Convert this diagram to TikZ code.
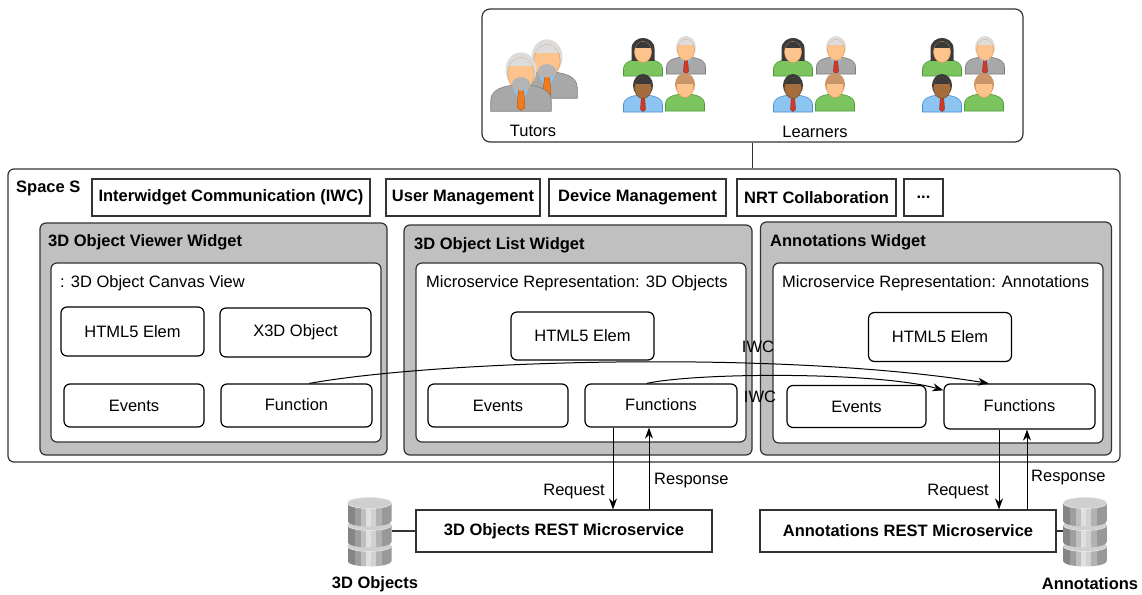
\documentclass[tikz,border=0pt]{standalone}
\usepackage{fontspec}
\setmainfont{Liberation Sans}
\usepackage{tikz}
\usetikzlibrary{arrows.meta, positioning, calc}

\definecolor{linegray}{HTML}{333333}
\definecolor{panelgray}{HTML}{C0C0C0}
\definecolor{skin}{HTML}{FCC38C}
\definecolor{skinedge}{HTML}{E39A55}
\definecolor{darkskin}{HTML}{A46D3E}
\definecolor{darkskinedge}{HTML}{7A4B25}
\definecolor{hairblack}{HTML}{3A3A3A}
\definecolor{hairgray}{HTML}{DCDCDC}
\definecolor{hairbrown}{HTML}{C8956A}
\definecolor{beardgray}{HTML}{B4B4B4}
\definecolor{suitgray}{HTML}{A8A8A8}
\definecolor{suitedge}{HTML}{7C7C7C}
\definecolor{shirtblue}{HTML}{8CC4F2}
\definecolor{blueedge}{HTML}{4A90D0}
\definecolor{shirtgreen}{HTML}{7BC45E}
\definecolor{greenedge}{HTML}{4A9A35}
\definecolor{tiered}{HTML}{D03A2A}
\definecolor{tieorange}{HTML}{F07A1E}
\definecolor{dbtop}{HTML}{CFCFCF}

\newcommand{\diagfont}{\fontsize{16.5}{19.8}\selectfont}

% parts of the little people icons (head centre at the origin, y downwards)
\newcommand{\personbody}[2]{%
  \filldraw[fill=#1, draw=#2, line width=0.6pt]
    (-19.5,24) -- (-19.5,17) .. controls (-19.5,10) and (-11,7) .. (0,7)
    .. controls (11,7) and (19.5,10) .. (19.5,17) -- (19.5,24) -- cycle;}
\newcommand{\persontie}[1]{%
  \fill[shirtblue] (-6,7.6) -- (0,19) -- (6,7.6) -- cycle;
  \filldraw[fill=#1, draw=#1!70!black, line width=0.4pt]
    (-1.7,10) -- (1.7,10) -- (2.5,21.5) -- (0,23.5) -- (-2.5,21.5) -- cycle;}
\newcommand{\personhead}[4]{%
  \fill[#1] (0,-2.5) ellipse [x radius=10, y radius=11.5];
  \filldraw[fill=#2, draw=#3, line width=0.5pt] (0,0) ellipse [x radius=8.5, y radius=10.5];
  \begin{scope}
    \clip (0,0) ellipse [x radius=8.5, y radius=10.5];
    \fill[#1] (-10,-12) rectangle (10,#4);
  \end{scope}}

\tikzset{
  woman/.pic={
    \personbody{shirtgreen}{greenedge}
    \fill[hairblack] (-11.5,9) -- (-11.5,-3) .. controls (-11.5,-17.5) and (11.5,-17.5) .. (11.5,-3) -- (11.5,9) -- cycle;
    \personhead{hairblack}{skin}{skinedge}{-3.5}
  },
  elder/.pic={
    \personbody{suitgray}{suitedge}
    \persontie{tiered}
    \personhead{hairgray}{skin}{skinedge}{-5}
  },
  darkman/.pic={
    \personbody{shirtblue}{blueedge}
    \persontie{tiered}
    \personhead{hairblack}{darkskin}{darkskinedge}{-4}
  },
  youth/.pic={
    \personbody{shirtgreen}{greenedge}
    \personhead{hairbrown}{skin}{skinedge}{-3}
  },
  tutor/.pic={
    \personbody{suitgray}{suitedge}
    \persontie{tieorange}
    \personhead{hairgray}{skin}{skinedge}{-5}
    \begin{scope}
      \clip (0,0) ellipse [x radius=8.5, y radius=10.5];
      \fill[beardgray] (0,7) ellipse [x radius=6, y radius=5];
    \end{scope}
  },
  learners/.pic={
    \pic at (0,0) {woman};
    \pic at (43,-2) {elder};
    \pic at (0,36) {darkman};
    \pic at (42,35) {youth};
  },
  % three stacked discs, side lit by vertical strips
  database/.pic={
    \foreach \t/\b in {47/62, 26/43, 4/22} {
      \begin{scope}
        \clip (-22,\t) -- (-22,\b) arc[start angle=180, end angle=0, x radius=22, y radius=5.5]
          -- (22,\t) arc[start angle=0, end angle=180, x radius=22, y radius=5.5] -- cycle;
        \foreach \xa/\xb/\g in {-22/-15/52, -15/-9/62, -9/-4/75, -4/1/88, 1/6/82, 6/12/70, 12/22/60}
          \fill[white!\g!black] (\xa,\t-6) rectangle (\xb,\b+6);
      \end{scope}
      \filldraw[fill=dbtop, draw=white!90!black, line width=0.6pt] (0,\t) ellipse [x radius=22, y radius=5.5];
    }
  }
}

\begin{document}
\begin{tikzpicture}[
    x=1pt, y=-1pt,
    every node/.style={font=\diagfont},
    service/.style={draw=linegray, line width=1.2pt, fill=white, inner sep=0pt, font=\diagfont\bfseries},
    panel/.style={draw=linegray, line width=1.2pt, rounded corners=6pt, fill=panelgray, inner sep=0pt},
    frame/.style={draw=linegray, line width=1.2pt, rounded corners=6pt, fill=white, inner sep=0pt},
    elem/.style={draw=black, line width=1.2pt, rounded corners=6pt, fill=white, inner sep=0pt},
    title/.style={anchor=west, inner sep=0pt, font=\diagfont\bfseries},
    caption/.style={anchor=west, inner sep=0pt},
    note/.style={inner sep=0pt},
    flow/.style={-{Stealth[length=11pt, width=8pt]}, line width=1pt},
    wire/.style={line width=1.2pt, draw=linegray}
]
\fill[white] (0,0) rectangle (1142,594);
\useasboundingbox (0,0) rectangle (1142,594);

% Users
\node[frame, rounded corners=8pt, minimum width=541pt, minimum height=133pt] (users) at (752.5,75.5) {};
\pic[scale=1.55] at (547,61) {tutor};
\pic[scale=1.55] at (521,74) {tutor};
\pic at (643,52) {learners};
\pic at (793,52) {learners};
\pic at (942,52) {learners};
\node (tutors) at (533,131) {Tutors};
\node (learnerslbl) at (815,132) {Learners};

% Space
\node[frame, minimum width=1112pt, minimum height=293pt] (space) at (564,315.5) {};
\draw[wire] (users.south) -- (users.south |- space.north);
\node[title] (spacelbl) at (16,188) {Space S};

\node[service, minimum width=278pt, minimum height=37pt] (iwc) at (231,197.5) {Interwidget Communication (IWC)};
\node[service, minimum width=154pt, minimum height=37pt] (users mgmt) at (463,197.5) {User Management};
\node[service, minimum width=177pt, minimum height=37pt] (devices) at (637.5,197.5) {Device Management};
\node[service, minimum width=159pt, minimum height=37pt] (nrt) at (816.5,197.5) {NRT Collaboration};
\node[service, minimum width=39pt, minimum height=37pt] (more) at (923.5,197.5) {...};

% Widgets
\node[panel, minimum width=347pt, minimum height=232pt] (vwid) at (213.5,339) {};
\node[panel, minimum width=348pt, minimum height=230pt] (lwid) at (578,340) {};
\node[panel, minimum width=351pt, minimum height=233pt] (awid) at (936,338.5) {};
\node[title] at (48,242) {3D Object Viewer Widget};
\node[title] at (414,245) {3D Object List Widget};
\node[title] at (770,242) {Annotations Widget};

\node[frame, minimum width=330pt, minimum height=179pt] (vin) at (216,352.5) {};
\node[frame, minimum width=330pt, minimum height=179pt] (lin) at (581,352.5) {};
\node[frame, minimum width=330pt, minimum height=180pt] (ain) at (938,353) {};
\node[caption] at (60,283) {: 3D Object Canvas View};
\node[caption] at (426,283) {Microservice Representation: 3D Objects};
\node[caption] at (782,283) {Microservice Representation: Annotations};

% Viewer content
\node[elem, minimum width=143pt, minimum height=49pt] (vhtml) at (132.5,331.5) {HTML5 Elem};
\node[elem, minimum width=151pt, minimum height=49pt] (vx3d) at (295.5,332.5) {X3D Object};
\node[elem, minimum width=140pt, minimum height=43pt] (vevents) at (134,405.5) {Events};
\node[elem, minimum width=151pt, minimum height=43pt] (vfunc) at (296.5,405.5) {\raisebox{2pt}{Function}};

% List content
\node[elem, minimum width=143pt, minimum height=48pt] (lhtml) at (582.5,336) {HTML5 Elem};
\node[elem, minimum width=140pt, minimum height=43pt] (levents) at (498,405.5) {Events};
\node[elem, minimum width=152pt, minimum height=43pt] (lfunc) at (661,405.5) {\raisebox{2pt}{Functions}};

% Annotations content
\node[elem, minimum width=143pt, minimum height=49pt] (ahtml) at (940,337) {HTML5 Elem};
\node[elem, minimum width=139pt, minimum height=42pt] (aevents) at (856.5,406.5) {Events};
\node[elem, minimum width=151pt, minimum height=45pt] (afunc) at (1019.5,406.5) {\raisebox{2pt}{Functions}};

% IWC messages
\draw[flow] (vfunc.60) .. controls (440,360) and (780,350) .. (afunc.143);
\draw[flow] (lfunc.123) .. controls (700,372) and (880,372) .. (afunc.168);
\node (iwc1) at (758,347) {IWC};
\node (iwc2) at (760,397) {IWC};

% REST services
\node[service, minimum width=296pt, minimum height=42pt] (lrest) at (564,531) {3D Objects REST Microservice};
\node[service, minimum width=296pt, minimum height=42pt] (arest) at (908,531) {Annotations REST Microservice};

\draw[flow] ($(lfunc.south)+(-48,0)$) -- ($(lrest.north)+(49,0)$);
\draw[flow] ($(lrest.north)+(85,0)$) -- ($(lfunc.south)+(-12,0)$);
\node[note, anchor=east] at (605,492) {Request};
\node[note, anchor=west] at (654,481) {Response};

\draw[flow] ($(afunc.south)+(-20.5,0)$) -- ($(arest.north)+(91,0)$);
\draw[flow] ($(arest.north)+(119,0)$) -- ($(afunc.south)+(7.5,0)$);
\node[note, anchor=east] at (989,492) {Request};
\node[note, anchor=west] at (1031,478) {Response};

% Databases
\pic at (369.5,499) {database};
\pic at (1085,499) {database};
\coordinate (ldb) at (391.5,531);
\coordinate (adb) at (1063,531);
\draw[wire] (ldb) -- (lrest.west);
\draw[wire] (arest.east) -- (adb);
\node[font=\diagfont\bfseries] (objlbl) at (375,584) {3D Objects};
\node[font=\diagfont\bfseries] (annlbl) at (1090,584) {Annotations};

\end{tikzpicture}
\end{document}
